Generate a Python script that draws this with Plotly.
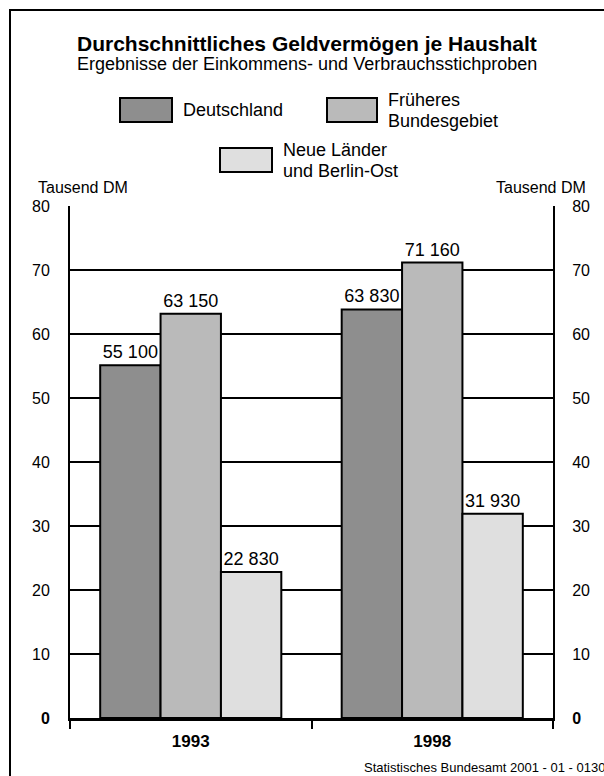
import plotly.graph_objects as go

# ---- data ----
years = ["1993", "1998"]
series_names = ["Deutschland", "Früheres<br>Bundesgebiet", "Neue Länder<br>und Berlin-Ost"]
deutschland = [55100, 63830]
frueheres = [63150, 71160]
neue_laender = [22830, 31930]
series_values = [deutschland, frueheres, neue_laender]
colors = ["#8e8e8e", "#bababa", "#dfdfdf"]
y_tickvals = [0, 10, 20, 30, 40, 50, 60, 70, 80]
y_ticktext = ["<b>0</b>", "10", "20", "30", "40", "50", "60", "70", "80"]

FONT = "Liberation Sans, Arial, sans-serif"

PL, PR, PT, PB = 70, 553, 206, 718  # plot area in pixels


def fmt(v):
    return f"{v:,}".replace(",", " ")


fig = go.Figure()
for name, vals, col in zip(series_names, series_values, colors):
    fig.add_trace(go.Bar(
        x=years,
        y=[v / 1000 for v in vals],
        name=name.replace("<br>", " "),
        marker=dict(color=col, line=dict(color="black", width=2)),
        text=[fmt(v) for v in vals],
        textposition="outside",
        textfont=dict(size=18, color="black", family=FONT),
        cliponaxis=False,
        showlegend=False,
    ))

# invisible trace to activate the right axis
fig.add_trace(go.Scatter(x=years, y=[None, None], yaxis="y2", showlegend=False,
                         hoverinfo="skip"))

fig.update_layout(
    width=604, height=776,
    margin=dict(l=PL, r=604 - PR, t=PT, b=776 - PB),
    paper_bgcolor="white", plot_bgcolor="white",
    font=dict(family=FONT, color="black"),
    barmode="group", bargap=0.25, bargroupgap=0,
    xaxis=dict(
        type="category",
        showline=True, linecolor="black", linewidth=3,
        ticks="outside", tickson="boundaries", ticklen=8, tickwidth=2, tickcolor="black",
        tickfont=dict(size=17, family=FONT),
        tickvals=years, ticktext=[f"<b>{y}</b>" for y in years],
        ticklabelstandoff=6,
        showgrid=False,
    ),
    yaxis=dict(
        range=[0, 80], tickvals=y_tickvals, ticktext=y_ticktext,
        showline=True, linecolor="black", linewidth=2,
        showgrid=True, gridcolor="black", gridwidth=1.5,
        ticks="", ticklabelstandoff=15,
        tickfont=dict(size=16, family=FONT),
        zeroline=False,
    ),
    yaxis2=dict(
        range=[0, 80], tickvals=y_tickvals, ticktext=y_ticktext,
        overlaying="y", side="right",
        showline=True, linecolor="black", linewidth=2,
        showgrid=False, ticks="", ticklabelstandoff=14,
        tickfont=dict(size=16, family=FONT),
        zeroline=False,
    ),
)

W = float(PR - PL)
H = float(PB - PT)


def px_x(px):
    return (px - PL) / W


def px_y(py):
    return (PB - py) / H


shapes = []
annotations = []

# outer frame
shapes.append(dict(type="rect", xref="paper", yref="paper",
                   x0=px_x(10), x1=px_x(640), y0=px_y(800), y1=px_y(10),
                   line=dict(color="black", width=2), fillcolor="rgba(0,0,0,0)",
                   layer="below"))

# title and subtitle
annotations.append(dict(xref="paper", yref="paper", x=px_x(307), y=px_y(43),
                        text="<b>Durchschnittliches Geldvermögen je Haushalt</b>",
                        showarrow=False, font=dict(size=21, family=FONT),
                        xanchor="center", yanchor="middle"))
annotations.append(dict(xref="paper", yref="paper", x=px_x(307), y=px_y(64),
                        text="Ergebnisse der Einkommens- und Verbrauchsstichproben",
                        showarrow=False, font=dict(size=18, family=FONT),
                        xanchor="center", yanchor="middle"))

# custom legend
legend_boxes = [(120, 172, 98, 122), (327, 377, 98, 122), (220, 272, 148, 172)]
LINE_GAP = 21
for (x0, x1, y0, y1), name, col in zip(legend_boxes, series_names, colors):
    shapes.append(dict(type="rect", xref="paper", yref="paper",
                       x0=px_x(x0), x1=px_x(x1), y0=px_y(y1), y1=px_y(y0),
                       line=dict(color="black", width=2), fillcolor=col))
    lines = name.split("<br>")
    yc = (y0 + y1) / 2
    start = yc - (len(lines) - 1) * LINE_GAP / 2
    for i, ln in enumerate(lines):
        annotations.append(dict(xref="paper", yref="paper", x=px_x(x1 + 9),
                                y=px_y(start + i * LINE_GAP), text=ln, showarrow=False,
                                align="left", xanchor="left", yanchor="middle",
                                font=dict(size=18, family=FONT)))

# axis titles
annotations.append(dict(xref="paper", yref="paper", x=px_x(36), y=px_y(187),
                        text="Tausend DM", showarrow=False, xanchor="left",
                        yanchor="middle", font=dict(size=16, family=FONT)))
annotations.append(dict(xref="paper", yref="paper", x=px_x(588), y=px_y(187),
                        text="Tausend DM", showarrow=False, xanchor="right",
                        yanchor="middle", font=dict(size=16, family=FONT)))

# footer
annotations.append(dict(xref="paper", yref="paper", x=px_x(362), y=px_y(767),
                        text="Statistisches Bundesamt 2001 - 01 - 0130",
                        showarrow=False, xanchor="left", yanchor="middle",
                        font=dict(size=13, family=FONT)))

fig.update_layout(shapes=shapes, annotations=annotations)

fig.write_html("out.html",
               config={"displayModeBar": False},
               post_script="document.body.style.margin='0';document.body.style.overflow='hidden';")
